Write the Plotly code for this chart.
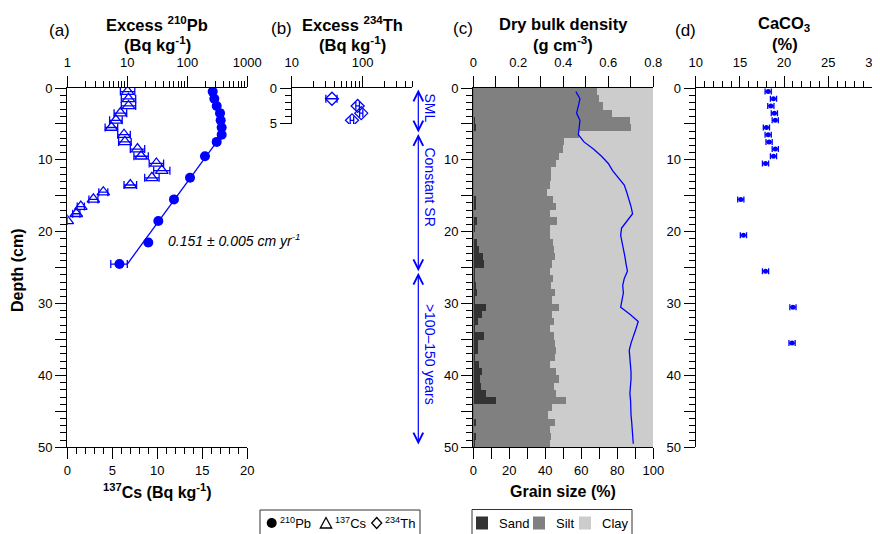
import math
import plotly.graph_objects as go

# ---------------- data ----------------
# (a) excess 210Pb (top log axis) and 137Cs (bottom axis) versus depth
pb_depth = [0.5, 1.5, 2.5, 3.5, 4.5, 5.5, 6.5, 7.5, 9.5, 12.5, 15.5, 18.5, 21.5, 24.5]
pb_excess = [265, 282, 309, 351, 360, 374, 374, 309, 197, 111, 60, 32.9, 22.4, 7.4]
pb_err_hi = [9, 9, 10, 11, 11, 12, 12, 10, 7, 5, 3, 2, 2, 2.6]
pb_err_lo = [9, 9, 10, 11, 11, 12, 12, 10, 7, 5, 3, 2, 2, 2.1]
fit_depth = [7.5, 24.5]
fit_pb = [309, 10]
sr_text = "0.151 ± 0.005 cm yr<sup>-1</sup>"

cs_depth = [0.5, 1.5, 2.5, 3.5, 4.5, 5.5, 6.5, 7.5, 8.5, 9.5, 10.5, 11.5, 12.5, 13.5,
            14.5, 15.5, 16.5, 17.5, 18.5]
cs_activity = [6.7, 6.8, 6.8, 5.9, 5.4, 4.9, 6.3, 6.4, 7.8, 8.2, 9.9, 10.5, 9.4, 7.0,
               4.0, 2.9, 1.5, 1.0, 0.0]
cs_err = [0.8, 0.8, 0.8, 0.7, 0.7, 0.7, 0.7, 0.7, 0.8, 0.8, 0.8, 0.9, 0.8, 0.7,
          0.5, 0.5, 0.4, 0.4, 0.0]

# (b) excess 234Th
th_depth = [1.5, 2.5, 3.5, 4.5]
th_excess = [36.9, 85, 95.5, 70.7]
th_err = [6.6, 5, 5, 4]

# (c) grain size (%) per 1-cm slice and dry bulk density (g cm-3)
grain_depth = [0.5, 1.5, 2.5, 3.5, 4.5, 5.5, 6.5, 7.5, 8.5, 9.5,
               10.5, 11.5, 12.5, 13.5, 14.5, 15.5, 16.5, 17.5, 18.5, 19.5,
               20.5, 21.5, 22.5, 23.5, 24.5, 25.5, 26.5, 27.5, 28.5, 29.5,
               30.5, 31.5, 32.5, 33.5, 34.5, 35.5, 36.5, 37.5, 38.5, 39.5,
               40.5, 41.5, 42.5, 43.5, 44.5, 45.5, 46.5, 47.5, 48.5, 49.5]
sand = [0.3, 0.3, 0.3, 0.5, 0.9, 1.9, 0.3, 0.3, 0.7, 0.3,
        0.3, 0.3, 0.3, 0.7, 0.3, 1.5, 1.9, 0.5, 2.2, 1.1,
        0.5, 2.2, 3.1, 5.6, 5.9, 1.1, 1.1, 1.7, 2.0, 1.1,
        7.0, 5.2, 2.8, 0.9, 5.9, 2.8, 3.0, 1.3, 3.3, 5.0,
        4.0, 4.2, 7.0, 12.6, 0.4, 0.4, 1.5, 0.4, 1.9, 1.3]
silt = [68.8, 69.7, 71.7, 76.5, 86.1, 86.1, 58.6, 50.1, 49.3, 47.3,
        46.0, 43.2, 43.2, 41.9, 40.8, 42.9, 44.4, 42.1, 44.7, 41.5,
        42.1, 42.2, 41.9, 39.8, 37.9, 41.9, 43.3, 41.8, 43.4, 42.9,
        40.8, 38.8, 42.0, 42.1, 39.1, 42.9, 42.9, 44.4, 39.3, 40.9,
        43.6, 40.6, 38.9, 38.9, 43.6, 41.3, 44.2, 42.2, 41.6, 41.3]
clay = [30.9, 30.0, 28.0, 23.0, 13.0, 12.0, 41.1, 49.6, 50.0, 52.4,
        53.7, 56.5, 56.5, 57.4, 58.9, 55.6, 53.7, 57.4, 53.1, 57.4,
        57.4, 55.6, 55.0, 54.6, 56.2, 57.0, 55.6, 56.5, 54.6, 56.0,
        52.2, 56.0, 55.2, 57.0, 55.0, 54.3, 54.1, 54.3, 57.4, 54.1,
        52.4, 55.2, 54.1, 48.5, 56.0, 58.3, 54.3, 57.4, 56.5, 57.4]
density = [0.456, 0.474, 0.467, 0.459, 0.474, 0.471, 0.467, 0.492, 0.534, 0.570,
           0.600, 0.619, 0.644, 0.671, 0.682, 0.692, 0.701, 0.708, 0.682, 0.659,
           0.655, 0.662, 0.670, 0.674, 0.679, 0.685, 0.671, 0.664, 0.667, 0.662,
           0.655, 0.696, 0.733, 0.723, 0.711, 0.701, 0.693, 0.696, 0.699, 0.701,
           0.701, 0.699, 0.696, 0.699, 0.699, 0.701, 0.704, 0.706, 0.708, 0.711]

# (d) CaCO3 (%)
caco3_depth = [0.5, 1.5, 2.5, 3.5, 4.5, 5.5, 6.5, 7.5, 8.5, 9.5, 10.5, 15.5, 20.5, 25.5, 30.5, 35.5]
caco3 = [18.2, 18.8, 18.5, 18.9, 19.0, 18.0, 18.2, 18.3, 19.0, 18.8, 17.9, 15.1, 15.4, 17.9, 21.0, 20.9]
caco3_err = [0.35, 0.35, 0.35, 0.35, 0.35, 0.35, 0.35, 0.35, 0.35, 0.35, 0.35, 0.35, 0.35, 0.35, 0.35, 0.35]

# tick labels (log axes and the short depth axis of panel b)
pb_tickvals = [1, 10, 100, 1000]
pb_ticktext = ["1", "10", "100", "1000"]
pb_minor = [2, 3, 4, 5, 6, 7, 8, 9, 20, 30, 40, 50, 60, 70, 80, 90, 200, 300, 400, 500, 600, 700, 800, 900]
th_tickvals = [10, 100]
th_ticktext = ["10", "100"]
th_minor = [20, 30, 40, 50, 60, 70, 80, 90, 200, 300, 400, 500]
th_depth_tickvals = [0, 5]
th_depth_ticktext = ["0", "5"]

# legend entries
iso_names = ["<sup>210</sup>Pb", "<sup>137</sup>Cs", "<sup>234</sup>Th"]
grain_names = ["Sand", "Silt", "Clay"]

# ---------------- layout helpers ----------------
PAGE_OFF = 8          # default body margin of the html page
W, H = 880 - PAGE_OFF, 534 - PAGE_OFF


def px_x(p):
    return (p - PAGE_OFF) / W


def px_y(p):
    return 1 - (p - PAGE_OFF) / H


Y_TOP, Y_BOT = 88.0, 447.3
dom_y = [px_y(Y_BOT), px_y(Y_TOP)]
dom_yb = [px_y(123.9), px_y(Y_TOP)]
dom_a = [px_x(67.3), px_x(247.3)]
dom_b = [px_x(291.7), px_x(412.3)]
dom_c = [px_x(473.3), px_x(653.3)]
dom_d = [px_x(695.7), px_x(872.5)]

FONT = "Liberation Sans, Arial, sans-serif"
BLUE = "#0000ff"
GRAIN_COLORS = ["#333333", "#808080", "#cccccc"]

axis_base = dict(showline=True, linecolor="black", linewidth=1.3, ticks="outside",
                 ticklen=11, tickwidth=1.3, tickcolor="black", showgrid=False,
                 zeroline=False, tickfont=dict(size=13, color="black", family=FONT))
minor_base = dict(ticks="outside", ticklen=6, tickwidth=1.3, tickcolor="black", showgrid=False)

fig = go.Figure()

# ---- panel (c) bars ----
for name, vals, col in zip(grain_names, [sand, silt, clay], GRAIN_COLORS):
    fig.add_trace(go.Bar(x=vals, y=grain_depth, orientation="h", width=1,
                         marker=dict(color=col, line=dict(width=0)), name=name,
                         xaxis="x4", yaxis="y3", showlegend=False))
fig.add_trace(go.Scatter(x=density, y=grain_depth, mode="lines",
                         line=dict(color=BLUE, width=1.3), xaxis="x5", yaxis="y3",
                         showlegend=False))

# ---- panel (a) ----
fig.add_trace(go.Scatter(x=fit_pb, y=fit_depth, mode="lines", line=dict(color=BLUE, width=1.3),
                         xaxis="x2", yaxis="y", showlegend=False))
fig.add_trace(go.Scatter(x=pb_excess, y=pb_depth, mode="markers", name="210Pb",
                         marker=dict(symbol="circle", size=10, color=BLUE),
                         error_x=dict(type="data", symmetric=False, array=pb_err_hi,
                                      arrayminus=pb_err_lo, color=BLUE, thickness=1.3, width=4),
                         xaxis="x2", yaxis="y", showlegend=False))
fig.add_trace(go.Scatter(x=cs_activity, y=cs_depth, mode="markers", name="137Cs",
                         marker=dict(symbol="triangle-up-open", size=11, color=BLUE,
                                     line=dict(width=1.3)),
                         error_x=dict(type="data", array=cs_err, color=BLUE, thickness=1.3, width=4),
                         xaxis="x", yaxis="y", showlegend=False))

# ---- panel (b) ----
fig.add_trace(go.Scatter(x=th_excess, y=th_depth, mode="markers", name="234Th",
                         marker=dict(symbol="diamond-open", size=10, color=BLUE,
                                     line=dict(width=1.3)),
                         error_x=dict(type="data", array=th_err, color=BLUE, thickness=1.3, width=4),
                         xaxis="x3", yaxis="y2", showlegend=False))

# ---- panel (d) ----
fig.add_trace(go.Scatter(x=caco3, y=caco3_depth, mode="markers", name="CaCO3",
                         marker=dict(symbol="circle", size=5, color=BLUE),
                         error_x=dict(type="data", array=caco3_err, color=BLUE, thickness=1.3, width=3),
                         xaxis="x6", yaxis="y4", showlegend=False))


def depth_axis(domain, anchor, rng):
    return dict(axis_base, domain=domain, anchor=anchor, range=rng, tickmode="linear",
                tick0=0, dtick=5, ticklabelstep=2, minor=dict(minor_base, dtick=1, tick0=0))


layout = dict(
    width=W, height=H,
    margin=dict(l=0, r=0, t=0, b=0, autoexpand=False),
    paper_bgcolor="white", plot_bgcolor="rgba(0,0,0,0)",
    font=dict(family=FONT, color="black", size=13),
    barmode="stack", bargap=0, hovermode=False, showlegend=False,
    yaxis=depth_axis(dom_y, "x", [50, 0]),
    yaxis2=dict(axis_base, domain=dom_yb, anchor="x3", range=[5, 0], tickmode="array",
                tickvals=th_depth_tickvals, ticktext=th_depth_ticktext,
                minor=dict(minor_base, dtick=1, tick0=0)),
    yaxis3=depth_axis(dom_y, "x4", [50, 0]),
    yaxis4=depth_axis(dom_y, "x6", [50, 0]),
    xaxis=dict(axis_base, domain=dom_a, anchor="y", side="bottom", range=[0, 20],
               tickmode="linear", tick0=0, dtick=5, minor=dict(minor_base, dtick=1, tick0=0)),
    xaxis2=dict(axis_base, overlaying="x", anchor="y", side="top", type="log", range=[0, 3],
                tickmode="array", tickvals=pb_tickvals, ticktext=pb_ticktext, ticklabelstandoff=4,
                minor=dict(minor_base, tickmode="array", tickvals=pb_minor)),
    xaxis3=dict(axis_base, domain=dom_b, anchor="y2", side="top", type="log",
                range=[1, math.log10(500)], tickmode="array", tickvals=th_tickvals,
                ticktext=th_ticktext, ticklabelstandoff=4,
                minor=dict(minor_base, tickmode="array", tickvals=th_minor)),
    xaxis4=dict(axis_base, domain=dom_c, anchor="y3", side="bottom", range=[0, 100],
                tickmode="linear", tick0=0, dtick=10, ticklabelstep=2),
    xaxis5=dict(axis_base, overlaying="x4", anchor="y3", side="top", range=[0, 0.8],
                tickmode="linear", tick0=0, dtick=0.1, ticklabelstep=2, ticklabelstandoff=4),
    xaxis6=dict(axis_base, domain=dom_d, anchor="y4", side="top", range=[10, 30],
                tickmode="linear", tick0=10, dtick=5, ticklabelstandoff=4,
                minor=dict(minor_base, dtick=1, tick0=10)),
)
fig.update_layout(**layout)

ann = []


def text_ann(text, xp, yp, size=16.5, angle=0, color="black", xanchor="center"):
    ann.append(dict(text=text, x=px_x(xp), y=px_y(yp), xref="paper", yref="paper",
                    showarrow=False, xanchor=xanchor, yanchor="middle", textangle=angle,
                    font=dict(size=size, color=color, family=FONT)))


# panel letters
text_ann("(a)", 59.7, 30, 17)
text_ann("(b)", 281, 29, 17)
text_ann("(c)", 463, 29, 17)
text_ann("(d)", 685, 30, 17)
# panel titles
text_ann("<b>Excess <sup>210</sup>Pb</b>", 157, 24)
text_ann("<b>(Bq kg<sup>-1</sup>)</b>", 157, 44)
text_ann("<b>Excess <sup>234</sup>Th</b>", 352, 24)
text_ann("<b>(Bq kg<sup>-1</sup>)</b>", 352, 44)
text_ann("<b>Dry bulk density</b>", 563.3, 24)
text_ann("<b>(g cm<sup>-3</sup>)</b>", 563.3, 44)
text_ann("<b>CaCO<sub>3</sub></b>", 784, 24)
text_ann("<b>(%)</b>", 785, 44)
# axis titles
text_ann("<b><sup>137</sup>Cs (Bq kg<sup>-1</sup>)</b>", 157, 491, 16)
text_ann("<b>Grain size (%)</b>", 563.3, 491, 16)
text_ann("<b>Depth (cm)</b>", 18, 270, 16, angle=-90)
# sedimentation rate
text_ann("<i>" + sr_text + "</i>", 166, 240, 14, xanchor="left")

# zones between (b) and (c)
zones = [("SML", 0, 6.2, 2.7), ("Constant SR", 6.2, 25.5, 13.7), (">100–150 years", 25.5, 49.6, 37)]
for label, d0, d1, dmid in zones:
    ann.append(dict(text="", x=px_x(418.3), y=d1, xref="paper", yref="y3",
                    ax=0, ay=d0, axref="pixel", ayref="y3", showarrow=True,
                    arrowside="end+start", arrowhead=5, startarrowhead=5,
                    arrowsize=1.6, startarrowsize=1.6, arrowwidth=1.2, arrowcolor=BLUE,
                    standoff=0, startstandoff=0))
    ann.append(dict(text=label, x=px_x(430), y=dmid, xref="paper", yref="y3",
                    showarrow=False, textangle=90, xanchor="center", yanchor="middle",
                    font=dict(size=14, color=BLUE, family=FONT)))

# ---- legend boxes at the bottom (swatches + labels) ----
LEG_Y = 523
shapes = []


def prect(x0, y0, x1, y1, **kw):
    shapes.append(dict(type="rect", xref="paper", yref="paper", x0=px_x(x0), x1=px_x(x1),
                       y0=px_y(y1), y1=px_y(y0), **kw))


def ppath(points, **kw):
    d = "M " + " L ".join("%.5f,%.5f" % (px_x(a), px_y(b)) for a, b in points) + " Z"
    shapes.append(dict(type="path", xref="paper", yref="paper", path=d, **kw))


# frames
prect(260, 510, 420, 548, line=dict(color="#333333", width=1), fillcolor="white", layer="above")
prect(472, 509.5, 632, 548, line=dict(color="#333333", width=1), fillcolor="white", layer="above")

# isotope swatches
shapes.append(dict(type="circle", xref="paper", yref="paper", x0=px_x(266.7), x1=px_x(276.7),
                   y0=px_y(LEG_Y + 5), y1=px_y(LEG_Y - 5), fillcolor="black",
                   line=dict(width=0), layer="above"))
ppath([(320.3, LEG_Y + 5), (331.7, LEG_Y + 5), (326, LEG_Y - 5.5)],
      line=dict(color="black", width=1.3), layer="above")
ppath([(376.7, LEG_Y - 5.5), (381.7, LEG_Y), (376.7, LEG_Y + 5.5), (371.7, LEG_Y)],
      line=dict(color="black", width=1.3), layer="above")
for name, xl in zip(iso_names, [278, 333, 383]):
    text_ann(name, xl, LEG_Y, 13, xanchor="left")

# grain-size swatches
for name, col, xc in zip(grain_names, GRAIN_COLORS, [482, 539, 585]):
    prect(xc - 6, LEG_Y - 6.5, xc + 6, LEG_Y + 6.5, line=dict(width=0), fillcolor=col, layer="above")
    text_ann(name, xc + 15, LEG_Y, 13, xanchor="left")

fig.update_layout(annotations=ann, shapes=shapes)
fig.write_html("out.html")
